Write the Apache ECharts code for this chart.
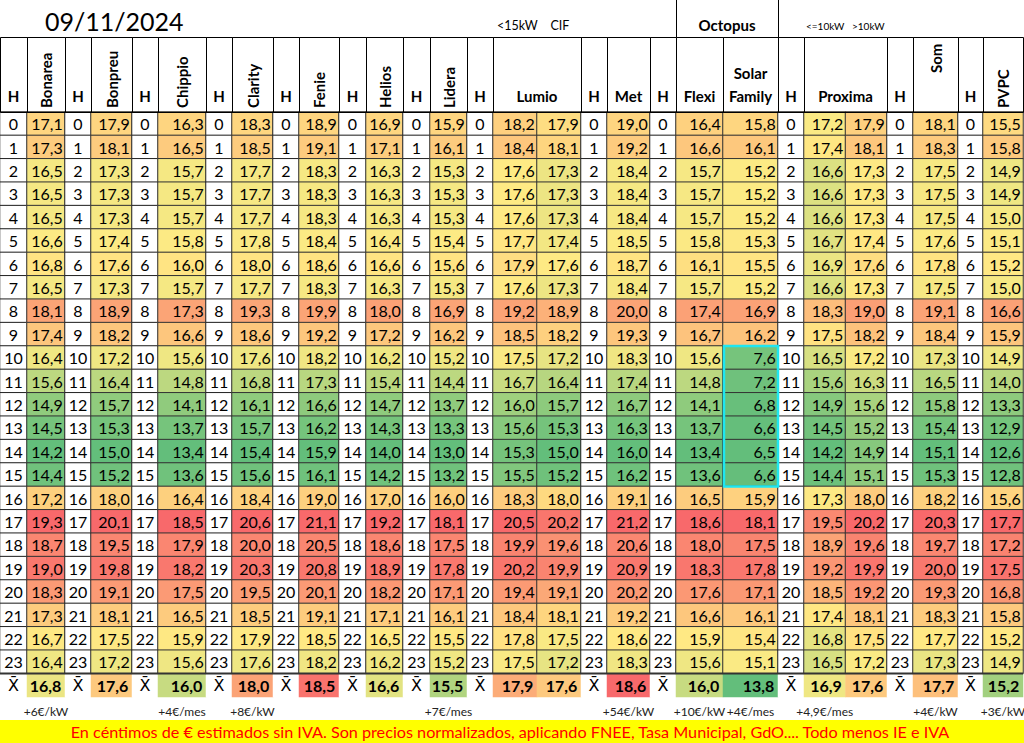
<!DOCTYPE html>
<html lang="es">

<head>
    <meta charset="UTF-8">
    <title>Precios 09/11/2024</title>
    <script src="https://cdn.jsdelivr.net/npm/echarts@6.0.0/dist/echarts.min.js"></script>
    <style>
        html, body { margin: 0; padding: 0; background: #fff; }
    </style>
</head>

<body>
    <div id="main" style="width: 1024px; height: 743px;"></div>
    <script>
        // valores en céntimos de €/kWh, hora 0..23
        var horas = [0, 1, 2, 3, 4, 5, 6, 7, 8, 9, 10, 11, 12, 13, 14, 15, 16, 17, 18, 19, 20, 21, 22, 23];
        var bonarea = [17.1, 17.3, 16.5, 16.5, 16.5, 16.6, 16.8, 16.5, 18.1, 17.4, 16.4, 15.6, 14.9, 14.5, 14.2, 14.4, 17.2, 19.3, 18.7, 19.0, 18.3, 17.3, 16.7, 16.4];
        var bonpreu = [17.9, 18.1, 17.3, 17.3, 17.3, 17.4, 17.6, 17.3, 18.9, 18.2, 17.2, 16.4, 15.7, 15.3, 15.0, 15.2, 18.0, 20.1, 19.5, 19.8, 19.1, 18.1, 17.5, 17.2];
        var chippio = [16.3, 16.5, 15.7, 15.7, 15.7, 15.8, 16.0, 15.7, 17.3, 16.6, 15.6, 14.8, 14.1, 13.7, 13.4, 13.6, 16.4, 18.5, 17.9, 18.2, 17.5, 16.5, 15.9, 15.6];
        var clarity = [18.3, 18.5, 17.7, 17.7, 17.7, 17.8, 18.0, 17.7, 19.3, 18.6, 17.6, 16.8, 16.1, 15.7, 15.4, 15.6, 18.4, 20.6, 20.0, 20.3, 19.5, 18.5, 17.9, 17.6];
        var fenie = [18.9, 19.1, 18.3, 18.3, 18.3, 18.4, 18.6, 18.3, 19.9, 19.2, 18.2, 17.3, 16.6, 16.2, 15.9, 16.1, 19.0, 21.1, 20.5, 20.8, 20.1, 19.1, 18.5, 18.2];
        var helios = [16.9, 17.1, 16.3, 16.3, 16.3, 16.4, 16.6, 16.3, 18.0, 17.2, 16.2, 15.4, 14.7, 14.3, 14.0, 14.2, 17.0, 19.2, 18.6, 18.9, 18.2, 17.1, 16.5, 16.2];
        var lidera = [15.9, 16.1, 15.3, 15.3, 15.3, 15.4, 15.6, 15.3, 16.9, 16.2, 15.2, 14.4, 13.7, 13.3, 13.0, 13.2, 16.0, 18.1, 17.5, 17.8, 17.1, 16.1, 15.5, 15.2];
        var lumioA = [18.2, 18.4, 17.6, 17.6, 17.6, 17.7, 17.9, 17.6, 19.2, 18.5, 17.5, 16.7, 16.0, 15.6, 15.3, 15.5, 18.3, 20.5, 19.9, 20.2, 19.4, 18.4, 17.8, 17.5];
        var lumioB = [17.9, 18.1, 17.3, 17.3, 17.3, 17.4, 17.6, 17.3, 18.9, 18.2, 17.2, 16.4, 15.7, 15.3, 15.0, 15.2, 18.0, 20.2, 19.6, 19.9, 19.1, 18.1, 17.5, 17.2];
        var met = [19.0, 19.2, 18.4, 18.4, 18.4, 18.5, 18.7, 18.4, 20.0, 19.3, 18.3, 17.4, 16.7, 16.3, 16.0, 16.2, 19.1, 21.2, 20.6, 20.9, 20.2, 19.2, 18.6, 18.3];
        var flexi = [16.4, 16.6, 15.7, 15.7, 15.7, 15.8, 16.1, 15.7, 17.4, 16.7, 15.6, 14.8, 14.1, 13.7, 13.4, 13.6, 16.5, 18.6, 18.0, 18.3, 17.6, 16.6, 15.9, 15.6];
        var solarFamily = [15.8, 16.1, 15.2, 15.2, 15.2, 15.3, 15.5, 15.2, 16.9, 16.2, 7.6, 7.2, 6.8, 6.6, 6.5, 6.6, 15.9, 18.1, 17.5, 17.8, 17.1, 16.1, 15.4, 15.1];
        var proximaA = [17.2, 17.4, 16.6, 16.6, 16.6, 16.7, 16.9, 16.6, 18.3, 17.5, 16.5, 15.6, 14.9, 14.5, 14.2, 14.4, 17.3, 19.5, 18.9, 19.2, 18.5, 17.4, 16.8, 16.5];
        var proximaB = [17.9, 18.1, 17.3, 17.3, 17.3, 17.4, 17.6, 17.3, 19.0, 18.2, 17.2, 16.3, 15.6, 15.2, 14.9, 15.1, 18.0, 20.2, 19.6, 19.9, 19.2, 18.1, 17.5, 17.2];
        var som = [18.1, 18.3, 17.5, 17.5, 17.5, 17.6, 17.8, 17.5, 19.1, 18.4, 17.3, 16.5, 15.8, 15.4, 15.1, 15.3, 18.2, 20.3, 19.7, 20.0, 19.3, 18.3, 17.7, 17.3];
        var pvpc = [15.5, 15.8, 14.9, 14.9, 15.0, 15.1, 15.2, 15.0, 16.6, 15.9, 14.9, 14.0, 13.3, 12.9, 12.6, 12.8, 15.6, 17.7, 17.2, 17.5, 16.8, 15.8, 15.2, 14.9];

        // fila de medias (X̄) y notas de pie, en orden de columna
        var medias = [16.8, 17.6, 16.0, 18.0, 18.5, 16.6, 15.5, 17.9, 17.6, 18.6, 16.0, 13.8, 16.9, 17.6, 17.7, 15.2];
        var notas = ['+6€/kW', '', '+4€/mes', '+8€/kW', '', '', '+7€/mes', '', '', '+54€/kW', '+10€/kW', '+4€/mes', '+4,9€/mes', '', '+4€/kW', '+3€/kW'];

        var grupos = [
            { h: true },
            { nombre: 'Bonarea', cols: [bonarea], rot: true },
            { h: true },
            { nombre: 'Bonpreu', cols: [bonpreu], rot: true },
            { h: true },
            { nombre: 'Chippio', cols: [chippio], rot: true },
            { h: true },
            { nombre: 'Clarity', cols: [clarity], rot: true },
            { h: true },
            { nombre: 'Fenie', cols: [fenie], rot: true },
            { h: true },
            { nombre: 'Helios', cols: [helios], rot: true },
            { h: true },
            { nombre: 'Lidera', cols: [lidera], rot: true },
            { h: true },
            { nombre: 'Lumio', cols: [lumioA, lumioB] },
            { h: true },
            { nombre: 'Met', cols: [met] },
            { h: true },
            { nombre: 'Flexi', cols: [flexi] },
            { nombre: 'Solar\nFamily', cols: [solarFamily] },
            { h: true },
            { nombre: 'Proxima', cols: [proximaA, proximaB] },
            { h: true },
            { nombre: 'Som', cols: [som], rot: true, gap: 39 },
            { h: true },
            { nombre: 'PVPC', cols: [pvpc], rot: true }
        ];

        // bordes x de cada grupo de columnas
        var bordes = [0, 27, 65, 91, 132, 158, 206, 232, 273, 299, 339, 366, 403, 430, 467, 493, 581, 607, 650, 676, 723, 778, 804, 887, 913, 958, 983, 1023];
        var TOP = 112, ROW_H = 23.4, HEAD_TOP = 37;
        var FONT = 'Lato';
        var VERDE = '#63BE7B', AMARILLO = '#FFEB84', ROJO = '#F8696B';

        function fmt(v) {
            return v.toFixed(1).replace('.', ',');
        }

        function mediana(arr) {
            var s = arr.slice().sort(function (a, b) { return a - b; });
            var m = Math.floor(s.length / 2);
            return s.length % 2 ? s[m] : (s[m - 1] + s[m]) / 2;
        }

        // escala de 3 colores tipo Excel (min - percentil 50 - max)
        function escala(seriesIndex, vals) {
            var min = Math.min.apply(null, vals), max = Math.max.apply(null, vals), med = mediana(vals);
            var colores = [];
            for (var i = 0; i <= 40; i++) {
                var v = min + (max - min) * i / 40;
                colores.push(v <= med
                    ? echarts.color.lerp((v - min) / (med - min), [VERDE, AMARILLO])
                    : echarts.color.lerp((v - med) / (max - med), [AMARILLO, ROJO]));
            }
            return {
                type: 'continuous', show: false, seriesIndex: seriesIndex, dimension: 2,
                min: min, max: max, inRange: { color: colores }
            };
        }

        var filas = horas.map(String).concat(['X']);
        var grids = [], xAxes = [], yAxes = [], series = [], visualMaps = [], graphics = [];
        var hSeries = [], avgSeries = [];
        var colIdx = 0, solarGrupo = -1;

        grupos.forEach(function (g, gi) {
            var x0 = bordes[gi], x1 = bordes[gi + 1];
            var ncols = g.h ? 1 : g.cols.length;
            grids.push({ left: x0, top: TOP, width: x1 - x0, height: ROW_H * 25, outerBoundsMode: 'none' });
            var nombre = g.h ? 'H' : g.nombre;
            xAxes.push({
                gridIndex: gi, type: 'category', position: 'top',
                data: g.h ? ['H'] : g.cols.map(function (c, k) { return k; }),
                name: nombre, nameLocation: 'middle',
                nameGap: g.gap || (g.rot ? 4 : 5),
                nameRotate: g.rot ? 90 : 0,
                nameTextStyle: { fontFamily: FONT, fontWeight: 'bold', fontSize: 15, color: '#000', lineHeight: 23 },
                axisLine: { show: false }, axisTick: { show: false }, axisLabel: { show: false }, splitLine: { show: false }
            });
            yAxes.push({ gridIndex: gi, type: 'category', data: filas, inverse: true, show: false });
            graphics.push({
                type: 'rect', z: 50,
                shape: { x: x0 + 0.5, y: HEAD_TOP + 0.5, width: x1 - x0, height: TOP - HEAD_TOP },
                style: { fill: 'none', stroke: '#000', lineWidth: 1 }
            });

            if (g.h) {
                var dh = horas.map(function (h, i) { return [0, i, h]; });
                dh.push({ value: [0, 24, -1], itemStyle: { borderWidth: 0 }, label: { formatter: 'X\u0304', fontFamily: 'DejaVu Sans', fontSize: 16 } });
                hSeries.push(series.length);
                series.push({
                    type: 'heatmap', xAxisIndex: gi, yAxisIndex: gi, data: dh,
                    label: { show: true, color: '#000', fontFamily: FONT, fontSize: 16, formatter: function (p) { return p.value[2]; } },
                    itemStyle: { borderColor: '#222', borderWidth: 1 },
                    emphasis: { disabled: true }
                });
                return;
            }

            if (g.cols[0] === solarFamily) solarGrupo = gi;
            var datos = [], todos = [];
            g.cols.forEach(function (col, k) {
                col.forEach(function (v, i) { datos.push([k, i, v]); todos.push(v); });
            });
            visualMaps.push(escala(series.length, todos));
            series.push({
                type: 'heatmap', xAxisIndex: gi, yAxisIndex: gi, data: datos,
                label: { show: true, position: 'insideRight', distance: 3, color: '#000', fontFamily: FONT, fontSize: 16, formatter: function (p) { return fmt(p.value[2]); } },
                itemStyle: { borderColor: '#333', borderWidth: 1 },
                emphasis: { disabled: true }
            });
            avgSeries.push(series.length);
            series.push({
                type: 'heatmap', xAxisIndex: gi, yAxisIndex: gi,
                data: g.cols.map(function (c, k) { return [k, 24, medias[colIdx + k]]; }),
                label: { show: true, position: 'insideRight', distance: 4, color: '#000', fontFamily: FONT, fontWeight: 'bold', fontSize: 16, formatter: function (p) { return fmt(p.value[2]); } },
                itemStyle: { borderWidth: 0 },
                emphasis: { disabled: true }
            });
            g.cols.forEach(function (c, k) {
                var nota = notas[colIdx + k];
                if (!nota) return;
                graphics.push({
                    type: 'text', x: x0 + (k + 0.5) * (x1 - x0) / ncols, y: 711,
                    style: { text: nota, fontFamily: FONT, fontSize: 12, fill: '#222', align: 'center', verticalAlign: 'middle' }
                });
            });
            colIdx += g.cols.length;
        });

        visualMaps.push({ type: 'continuous', show: false, seriesIndex: hSeries, dimension: 2, min: -1, max: 23, inRange: { color: ['#ffffff', '#ffffff'] } });
        visualMaps.push(escala(avgSeries, medias));

        // línea gruesa sobre la fila de medias
        graphics.push({
            type: 'line', z: 60,
            shape: { x1: 0, y1: TOP + 24 * ROW_H, x2: 1023, y2: TOP + 24 * ROW_H },
            style: { stroke: '#333', lineWidth: 2 }
        });
        // marco cian horas 10-15 de Solar Family
        graphics.push({
            type: 'rect', z: 60,
            shape: { x: bordes[solarGrupo] + 1, y: TOP + 10 * ROW_H, width: bordes[solarGrupo + 1] - bordes[solarGrupo] - 1, height: 6 * ROW_H },
            style: { fill: 'none', stroke: '#1FE6F0', lineWidth: 2.5 }
        });
        // cabecera Octopus
        [676, 778].forEach(function (x) {
            graphics.push({ type: 'line', z: 50, shape: { x1: x + 0.5, y1: 0, x2: x + 0.5, y2: HEAD_TOP }, style: { stroke: '#000', lineWidth: 1 } });
        });
        graphics.push(
            { type: 'text', x: 45, y: 21, style: { text: '09/11/2024', fontFamily: FONT, fontSize: 25, fill: '#000', verticalAlign: 'middle' } },
            { type: 'text', x: 497, y: 25, style: { text: '<15kW    CIF', fontFamily: FONT, fontSize: 12.5, fill: '#000', verticalAlign: 'middle' } },
            { type: 'text', x: 727, y: 25, style: { text: 'Octopus', fontFamily: FONT, fontWeight: 'bold', fontSize: 15, fill: '#000', align: 'center', verticalAlign: 'middle' } },
            { type: 'text', x: 806, y: 26, style: { text: '<=10kW   >10kW', fontFamily: FONT, fontSize: 10, fill: '#000', verticalAlign: 'middle' } },
            { type: 'rect', shape: { x: 0, y: 720, width: 1024, height: 23 }, style: { fill: '#FFFF00' } },
            { type: 'text', x: 510, y: 731.5, style: { text: 'En céntimos de € estimados sin IVA. Son precios normalizados, aplicando FNEE, Tasa Municipal, GdO.... Todo menos IE e IVA', fontFamily: FONT, fontSize: 16.2, fill: '#FF0000', align: 'center', verticalAlign: 'middle' } }
        );

        var chartDom = document.getElementById('main');
        var myChart = echarts.init(chartDom, null, { renderer: 'svg' });
        var option = {
            animation: false,
            backgroundColor: '#fff',
            grid: grids,
            xAxis: xAxes,
            yAxis: yAxes,
            visualMap: visualMaps,
            series: series,
            graphic: graphics
        };
        myChart.setOption(option);
    </script>
</body>

</html>
